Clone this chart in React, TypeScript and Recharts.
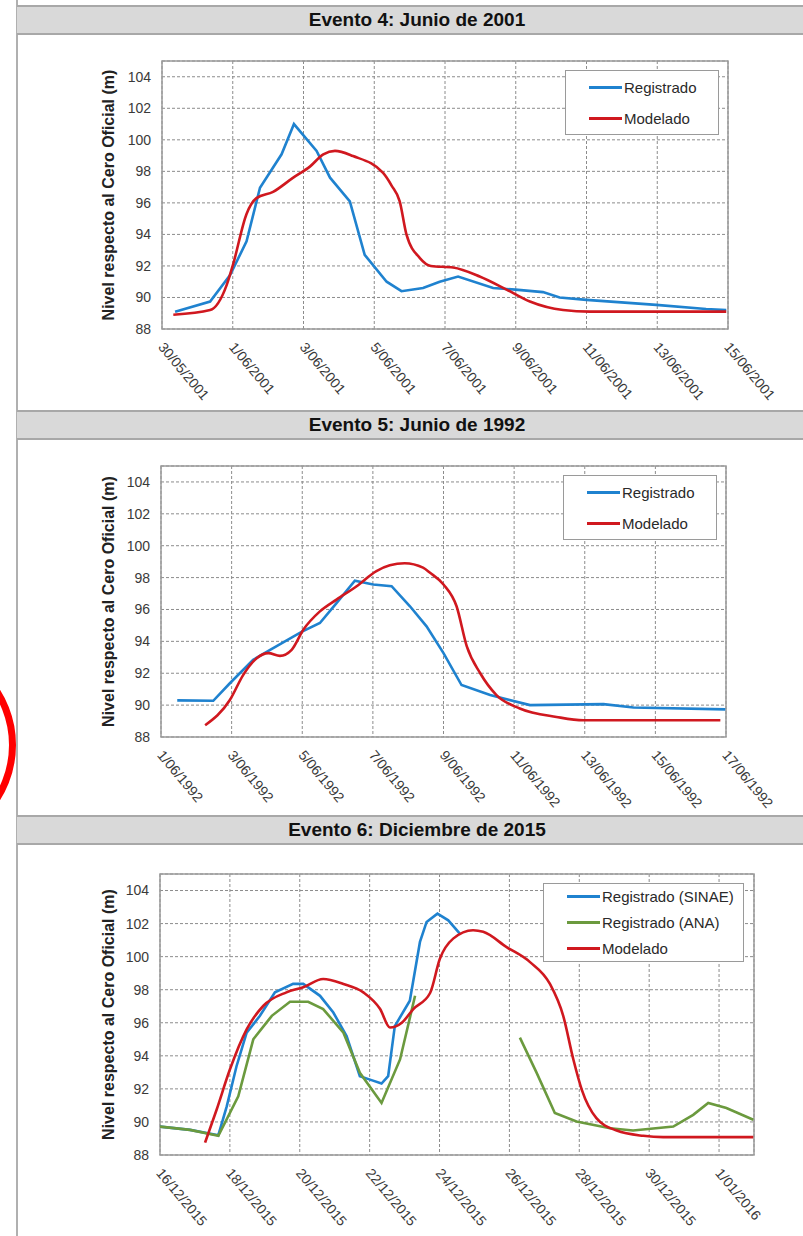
import React from 'react';
import { LineChart, Line, XAxis, YAxis, CartesianGrid, ReferenceArea, Legend } from 'recharts';

type Pt = [number, number | null];

// ---------- tick labels ----------
const ev4Ticks = ['30/05/2001', '1/06/2001', '3/06/2001', '5/06/2001', '7/06/2001', '9/06/2001', '11/06/2001', '13/06/2001', '15/06/2001'];
const ev5Ticks = ['1/06/1992', '3/06/1992', '5/06/1992', '7/06/1992', '9/06/1992', '11/06/1992', '13/06/1992', '15/06/1992', '17/06/1992'];
const ev6Ticks = ['16/12/2015', '18/12/2015', '20/12/2015', '22/12/2015', '24/12/2015', '26/12/2015', '28/12/2015', '30/12/2015', '1/01/2016'];
const dayTicks = [0, 2, 4, 6, 8, 10, 12, 14, 16];
const yTicks = [88, 90, 92, 94, 96, 98, 100, 102, 104];

// ---------- Evento 4: Junio de 2001 (day offset from 30/05/2001) ----------
const ev4Registrado: Pt[] = [
  [0.37, 89.1], [1.36, 89.74], [1.92, 91.4], [2.39, 93.56], [2.77, 96.96], [3.38, 99.08], [3.73, 101.0],
  [4.37, 99.3], [4.75, 97.6], [5.31, 96.1], [5.73, 92.7], [6.35, 91.0], [6.77, 90.4], [7.38, 90.6],
  [7.85, 91.0], [8.37, 91.33], [9.36, 90.6], [9.99, 90.5], [10.77, 90.34], [11.24, 90.0], [12.0, 89.85],
  [13.97, 89.53], [15.38, 89.27], [15.95, 89.2],
];
const ev4Modelado: Pt[] = [
  [0.32, 88.9], [1.36, 89.2], [1.83, 90.8], [2.01, 92.1], [2.39, 95.3], [2.67, 96.3], [3.14, 96.7],
  [3.71, 97.6], [4.18, 98.3], [4.56, 99.08], [4.89, 99.3], [5.4, 98.97], [6.25, 97.9], [6.49, 97.1],
  [6.72, 96.1], [6.91, 94.0], [7.29, 92.5], [7.6, 92.0], [8.23, 91.9], [8.98, 91.33], [9.74, 90.5],
  [10.4, 89.74], [11.34, 89.2], [12.09, 89.1], [15.95, 89.1],
];

// ---------- Evento 5: Junio de 1992 (day offset from 1/06/1992) ----------
const ev5Registrado: Pt[] = [
  [0.46, 90.3], [1.48, 90.27], [1.95, 91.37], [2.61, 92.84], [3.09, 93.47], [3.98, 94.6], [4.5, 95.15],
  [4.97, 96.4], [5.49, 97.8], [6.01, 97.57], [6.53, 97.46], [7.05, 96.2], [7.52, 94.94], [8.0, 93.26],
  [8.51, 91.26], [9.32, 90.63], [10.45, 90.0], [12.53, 90.06], [13.38, 89.85], [15.98, 89.73],
];
const ev5Modelado: Pt[] = [
  [1.25, 88.74], [1.95, 90.32], [2.33, 91.9], [2.71, 92.94], [3.04, 93.26], [3.37, 93.09], [3.7, 93.47],
  [4.03, 94.73], [4.5, 95.88], [4.97, 96.62], [5.54, 97.46], [6.1, 98.41], [6.48, 98.77], [6.9, 98.9],
  [7.42, 98.62], [7.62, 98.3], [8.0, 97.57], [8.37, 96.2], [8.66, 93.68], [9.04, 92.0], [9.5, 90.63],
  [10.16, 89.79], [11.2, 89.26], [11.96, 89.05], [15.84, 89.05],
];

// ---------- Evento 6: Diciembre de 2015 (day offset from 16/12/2015) ----------
const ev6Sinae: Pt[] = [
  [0, 89.72], [0.86, 89.52], [1.67, 89.2], [1.91, 90.94], [2.19, 93.37], [2.48, 95.4], [2.86, 96.42],
  [3.29, 97.84], [3.81, 98.35], [4.1, 98.35], [4.58, 97.63], [4.96, 96.62], [5.34, 95.2], [5.72, 92.77],
  [6.01, 92.56], [6.34, 92.32], [6.53, 92.77], [6.72, 95.8], [7.15, 97.33], [7.44, 100.89], [7.63, 102.1],
  [7.94, 102.6], [8.25, 102.2], [8.58, 101.39],
];
const ev6Ana: Pt[] = [
  [0, 89.72], [0.86, 89.52], [1.67, 89.16], [2.24, 91.55], [2.67, 95.0], [3.2, 96.42], [3.72, 97.27],
  [4.24, 97.27], [4.67, 96.83], [5.25, 95.4], [5.72, 92.97], [6.34, 91.15], [6.87, 93.78], [7.3, 97.63],
  [8.8, null],
  [10.3, 95.1], [10.78, 92.97], [11.3, 90.54], [11.92, 90.03], [12.88, 89.62], [13.54, 89.48],
  [14.69, 89.72], [15.26, 90.43], [15.69, 91.15], [16.21, 90.84], [16.98, 90.13],
];
const ev6Modelado: Pt[] = [
  [1.29, 88.75], [1.62, 90.74], [2.0, 93.17], [2.48, 95.6], [2.96, 97.03], [3.62, 97.84], [4.1, 98.15],
  [4.67, 98.65], [5.25, 98.35], [5.82, 97.84], [6.3, 96.83], [6.58, 95.71], [6.92, 96.0], [7.25, 96.83],
  [7.73, 97.8], [8.01, 99.87], [8.39, 101.09], [8.96, 101.6], [9.25, 101.5], [9.92, 100.58],
  [10.59, 99.67], [11.16, 98.35], [11.54, 96.42], [11.83, 93.78], [12.07, 91.96], [12.49, 90.23],
  [13.07, 89.48], [13.83, 89.16], [14.4, 89.08], [16.98, 89.08],
];

const BLUE = '#1f82cf';
const RED = '#d0181f';
const GREEN = '#6b9a3e';
const FONT = '"Liberation Sans", Arial, Helvetica, sans-serif';
const Y_LABEL = 'Nivel respecto al Cero Oficial (m)';

type Series = { name: string; color: string; pts: Pt[]; curve: 'linear' | 'monotone' };

type PanelCfg = {
  title: string;
  headerTop: number;
  chartTop: number;
  chartHeight: number;
  margin: { top: number; right: number; bottom: number; left: number };
  yWidth: number;
  xAxisHeight: number;
  xMax: number;
  tickLabels: string[];
  series: Series[];
  legend: { left: number; top: number; width: number; height: number; rowGap: number };
};

const panels: PanelCfg[] = [
  {
    title: 'Evento 4: Junio de 2001',
    headerTop: 5,
    chartTop: 35,
    chartHeight: 375,
    margin: { top: 26, right: 75, bottom: 0, left: 0 },
    yWidth: 162,
    xAxisHeight: 81,
    xMax: 16,
    tickLabels: ev4Ticks,
    series: [
      { name: 'Registrado', color: BLUE, pts: ev4Registrado, curve: 'linear' },
      { name: 'Modelado', color: RED, pts: ev4Modelado, curve: 'monotone' },
    ],
    legend: { left: 565, top: 35, width: 154, height: 65, rowGap: 31 },
  },
  {
    title: 'Evento 5: Junio de 1992',
    headerTop: 410,
    chartTop: 440,
    chartHeight: 375,
    margin: { top: 26, right: 77, bottom: 0, left: 0 },
    yWidth: 161,
    xAxisHeight: 78,
    xMax: 16,
    tickLabels: ev5Ticks,
    series: [
      { name: 'Registrado', color: BLUE, pts: ev5Registrado, curve: 'linear' },
      { name: 'Modelado', color: RED, pts: ev5Modelado, curve: 'monotone' },
    ],
    legend: { left: 563, top: 35, width: 154, height: 65, rowGap: 31 },
  },
  {
    title: 'Evento 6: Diciembre de 2015',
    headerTop: 815,
    chartTop: 845,
    chartHeight: 391,
    margin: { top: 29, right: 49, bottom: 0, left: 0 },
    yWidth: 160,
    xAxisHeight: 81,
    xMax: 17,
    tickLabels: ev6Ticks,
    series: [
      { name: 'Registrado (SINAE)', color: BLUE, pts: ev6Sinae, curve: 'linear' },
      { name: 'Registrado (ANA)', color: GREEN, pts: ev6Ana, curve: 'linear' },
      { name: 'Modelado', color: RED, pts: ev6Modelado, curve: 'monotone' },
    ],
    legend: { left: 543, top: 38, width: 201, height: 79, rowGap: 27 },
  },
];

const makeXTick = (labels: string[]) => (props: any) => {
  const { x, y, payload } = props;
  const label = labels[Math.round(payload.value / 2)];
  return (
    <g transform={`translate(${x + 3},${y + 12})`}>
      <text x={0} y={0} dy="0.71em" transform="rotate(50)" textAnchor="start" fontSize={14} fill="#3a3a3a" fontFamily={FONT}>
        {label}
      </text>
    </g>
  );
};

const YLabel = (props: any) => {
  const vb = props.viewBox || {};
  const cx = 108;
  const cy = (vb.y || 0) + (vb.height || 0) / 2;
  return (
    <text
      x={cx}
      y={cy}
      transform={`rotate(-90, ${cx}, ${cy})`}
      textAnchor="middle"
      dominantBaseline="central"
      fontSize={16}
      fontWeight="bold"
      fill="#222"
      fontFamily={FONT}
    >
      {Y_LABEL}
    </text>
  );
};

function Panel({ cfg }: { cfg: PanelCfg }) {
  const lg = cfg.legend;
  const renderLegend = () => (
    <div
      style={{
        width: lg.width,
        height: lg.height,
        boxSizing: 'border-box',
        border: '1.5px solid #9a9a9a',
        background: '#fff',
        display: 'flex',
        flexDirection: 'column',
        justifyContent: 'center',
        fontFamily: FONT,
        fontSize: 15,
        color: '#2a2a2a',
      }}
    >
      {cfg.series.map((s) => (
        <div key={s.name} style={{ display: 'flex', alignItems: 'center', height: lg.rowGap, paddingLeft: 23 }}>
          <span style={{ display: 'inline-block', width: 33, height: 3, background: s.color, marginRight: 2 }} />
          <span>{s.name}</span>
        </div>
      ))}
    </div>
  );

  return (
    <>
      <div
        style={{
          position: 'absolute',
          left: 17,
          top: cfg.headerTop,
          width: 800,
          height: 30,
          boxSizing: 'border-box',
          background: '#d9d9d9',
          borderTop: '2px solid #a8a8a8',
          borderBottom: '2px solid #a8a8a8',
        }}
      />
      <div
        style={{
          position: 'absolute',
          left: 17,
          top: cfg.headerTop,
          width: 800,
          height: 30,
          lineHeight: '30px',
          textAlign: 'center',
          fontFamily: FONT,
          fontWeight: 'bold',
          fontSize: 19,
          color: '#111',
        }}
      >
        {cfg.title}
      </div>
      <div style={{ position: 'absolute', left: 0, top: cfg.chartTop }}>
        <LineChart width={803} height={cfg.chartHeight} margin={cfg.margin}>
          <CartesianGrid stroke="#8c8c8c" strokeDasharray="3 2" strokeWidth={1} />
          <XAxis
            dataKey="day"
            type="number"
            domain={[0, cfg.xMax]}
            ticks={dayTicks}
            allowDataOverflow
            height={cfg.xAxisHeight}
            axisLine={false}
            tickLine={false}
            tickSize={0}
            tickMargin={0}
            interval={0}
            tick={makeXTick(cfg.tickLabels)}
          />
          <YAxis
            type="number"
            domain={[88, 105]}
            ticks={yTicks}
            allowDataOverflow
            width={cfg.yWidth}
            axisLine={false}
            tickLine={false}
            tickSize={0}
            tickMargin={11}
            interval={0}
            tick={{ fontSize: 14, fill: '#3a3a3a', fontFamily: FONT }}
            label={{ content: YLabel }}
          />
          <ReferenceArea x1={0} x2={cfg.xMax} y1={88} y2={105} fill="none" fillOpacity={0} stroke="#9a9a9a" strokeWidth={1.5} />
          {cfg.series.map((s) => (
            <Line
              key={s.name}
              name={s.name}
              data={s.pts.map(([d, v]) => ({ day: d, v }))}
              dataKey="v"
              type={s.curve}
              stroke={s.color}
              strokeWidth={2.6}
              dot={false}
              activeDot={false}
              connectNulls={false}
              isAnimationActive={false}
            />
          ))}
          <Legend
            layout="vertical"
            verticalAlign="middle"
            align="center"
            content={renderLegend}
            wrapperStyle={{ left: lg.left, top: lg.top, width: lg.width, height: lg.height }}
          />
        </LineChart>
      </div>
    </>
  );
}

export default function App() {
  return (
    <div
      style={{
        position: 'absolute',
        left: 0,
        top: 0,
        width: 803,
        height: 1236,
        overflow: 'hidden',
        background: '#fff',
        fontFamily: FONT,
      }}
    >
      <div style={{ position: 'absolute', left: 16, top: 0, width: 2, height: 1236, background: '#b0b0b0' }} />
      <div
        style={{
          position: 'absolute',
          left: -190,
          top: 642,
          width: 206,
          height: 206,
          boxSizing: 'border-box',
          borderRadius: '50%',
          border: '7px solid #ff0000',
        }}
      />
      {panels.map((p) => (
        <Panel key={p.title} cfg={p} />
      ))}
    </div>
  );
}
